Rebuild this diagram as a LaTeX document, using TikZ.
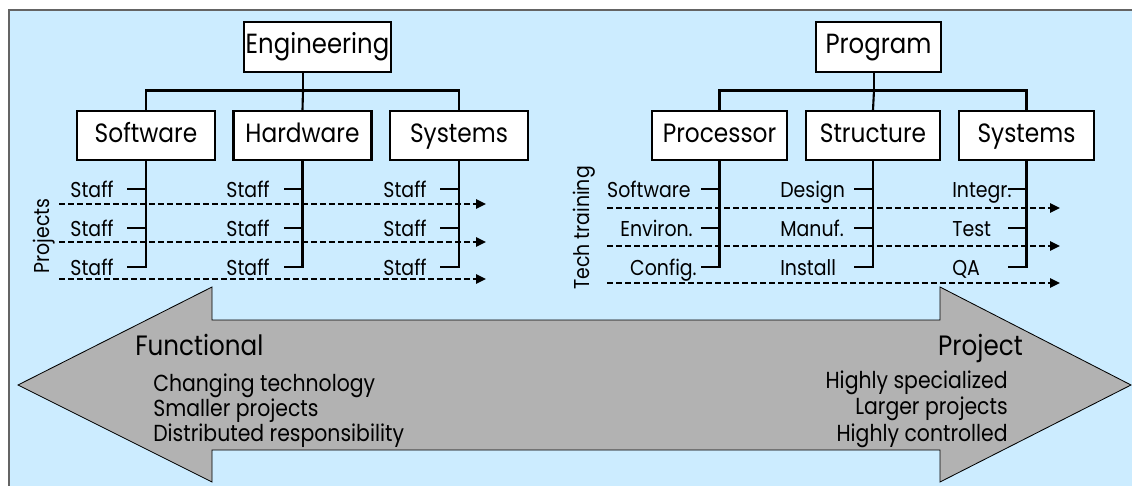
\documentclass[tikz,border=0pt]{standalone}
\usepackage{fontspec}
\setmainfont{Poppins}[FakeStretch=0.88]
\usepackage{tikz}
\usetikzlibrary{arrows.meta}
\usepackage{xcolor}

\definecolor{paneblue}{RGB}{204,236,255}
\definecolor{arrowgray}{RGB}{178,178,178}
\definecolor{framegray}{RGB}{100,100,100}

\tikzset{
  orgbox/.style={draw, line width=1.5pt, fill=white, inner sep=0pt,
    text height=14pt, text depth=4.5pt},
  tree/.style={line width=1.5pt},
  flow/.style={line width=1.5pt, dash pattern=on 4pt off 2.4pt,
    -{Triangle[length=2.5mm,width=2.3mm]}},
  lbl/.style={inner sep=0pt, font=\fontsize{15.3}{18}\selectfont},
  big/.style={inner sep=0pt, font=\fontsize{19.9}{23}\selectfont},
  small/.style={inner sep=0pt, font=\fontsize{16.5}{19}\selectfont},
}

\begin{document}
\begin{tikzpicture}[x=0.025cm, y=-0.025cm]
  % Page and blue panel
  \useasboundingbox (0,0) rectangle (1132,486);
  \fill[paneblue] (9,10) rectangle (1132,486);
  \draw[framegray, line width=1.4pt] (9,486) -- (9,10) -- (1132,10);

  % The double arrow at the bottom
  \filldraw[fill=arrowgray, draw=black, line width=0.6pt]
    (18,385) -- (212,287) -- (212,320) -- (940,320) -- (940,287) -- (1131,385)
    -- (940,482) -- (940,450) -- (212,450) -- (212,482) -- cycle;

  % Left organisation: Engineering
  \node[orgbox, minimum width=3.675cm, minimum height=1.25cm,
    font=\fontsize{19.7}{23}\selectfont] (eng) at (317.5,47) {Engineering};
  \node[orgbox, minimum width=3.45cm, minimum height=1.225cm,
    font=\fontsize{18.8}{22}\selectfont] (sw) at (146,135.5) {Software};
  \node[orgbox, minimum width=3.45cm, minimum height=1.225cm,
    font=\fontsize{18.8}{22}\selectfont] (hw) at (302.5,135.5) {Hardware};
  \node[orgbox, minimum width=3.45cm, minimum height=1.225cm,
    font=\fontsize{18.8}{22}\selectfont] (sys) at (459,135.5) {Systems};
  \coordinate (ebus) at (303,90.5);

  % Right organisation: Program
  \node[orgbox, minimum width=3.125cm, minimum height=1.25cm,
    font=\fontsize{19.7}{23}\selectfont] (prog) at (878.5,47) {Program};
  \node[orgbox, minimum width=3.375cm, minimum height=1.225cm,
    font=\fontsize{18.8}{22}\selectfont] (proc) at (719.5,135.5) {Processor};
  \node[orgbox, minimum width=3.35cm, minimum height=1.225cm,
    font=\fontsize{18.8}{22}\selectfont] (str) at (873,135.5) {Structure};
  \node[orgbox, minimum width=3.375cm, minimum height=1.225cm,
    font=\fontsize{18.8}{22}\selectfont] (sysb) at (1026.5,135.5) {Systems};
  \coordinate (pbus) at (874,90.5);

  % Tree lines
  \draw[tree] (eng.south -| ebus) -- (ebus);
  \draw[tree] (sw.north) |- (ebus) -| (sys.north);
  \draw[tree] (ebus) -- (hw.north);
  \draw[tree] (prog.south -| pbus) -- (pbus);
  \draw[tree] (proc.north) |- (pbus) -| (sysb.north);
  \draw[tree] (pbus) -- (str.north);

  % Staff lines with their ticks
  \foreach \col in {sw,hw,sys,proc,str,sysb} {
    \draw[tree] (\col.south) -- (\col.south |- 0,267) -- ++(-19,0);
    \foreach \row in {189,228}
      \draw[tree] (\col.south |- 0,\row) -- ++(-19,0);
  }

  % Staff labels
  \foreach \col/\x in {sw/114,hw/270,sys/427}
    \foreach \r/\y in {1/197.5,2/236.5,3/275.5}
      \node[lbl, anchor=base east] (\col\r) at (\x,\y) {Staff};

  \node[lbl, anchor=base east] (proc1) at (691,197.5) {Software};
  \node[lbl, anchor=base east] (proc2) at (693,236.5) {Environ.};
  \node[lbl, anchor=base east] (proc3) at (697,275.5) {Config.};
  \node[lbl, anchor=base west] (str1) at (780,197.5) {Design};
  \node[lbl, anchor=base west] (str2) at (780,236.5) {Manuf.};
  \node[lbl, anchor=base west] (str3) at (780,275.5) {Install};
  \node[lbl, anchor=base west] (sysb1) at (952,197.5) {Integr.};
  \node[lbl, anchor=base west] (sysb2) at (952,236.5) {Test};
  \node[lbl, anchor=base west] (sysb3) at (952,275.5) {QA};

  % Project and training flows
  \node[lbl, rotate=90] (projlbl) at (44,236) {Projects};
  \node[lbl, rotate=90] (techlbl) at (584,228) {Tech training};
  \foreach \r/\y in {1/204,2/242,3/279} {
    \coordinate (pa\r) at (59,\y);
    \coordinate (pb\r) at (486,\y);
    \draw[flow] (pa\r) -- (pb\r);
  }
  \foreach \r/\y in {1/208,2/246,3/283} {
    \coordinate (ta\r) at (607,\y);
    \coordinate (tb\r) at (1060,\y);
    \draw[flow] (ta\r) -- (tb\r);
  }

  % Texts on the arrow
  \node[big, anchor=base west] (func) at (135,355) {Functional};
  \node[small, anchor=base west] (func1) at (153,391) {Changing technology};
  \node[small, anchor=base west] (func2) at (153,416) {Smaller projects};
  \node[small, anchor=base west] (func3) at (153,441) {Distributed responsibility};
  \node[big, anchor=base east] (proj) at (1023,355) {Project};
  \node[small, anchor=base east] (proj1) at (1008,388) {Highly specialized};
  \node[small, anchor=base east] (proj2) at (1008,414) {Larger projects};
  \node[small, anchor=base east] (proj3) at (1008,441) {Highly controlled};
\end{tikzpicture}
\end{document}
